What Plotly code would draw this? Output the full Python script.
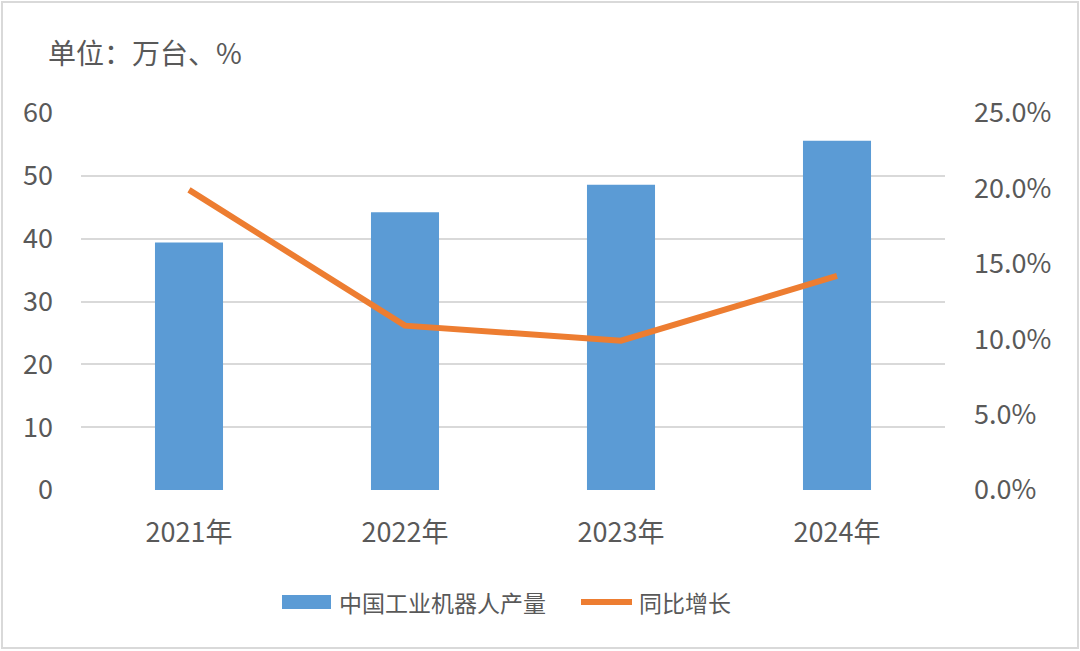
import plotly.graph_objects as go

categories = ["2021年", "2022年", "2023年", "2024年"]
production = [39.4, 44.2, 48.6, 55.6]          # 万台
growth = [0.199, 0.109, 0.099, 0.142]           # 同比增长

left_ticks = [0, 10, 20, 30, 40, 50, 60]
right_ticks = [0, 0.05, 0.10, 0.15, 0.20, 0.25]
right_tick_text = ["0.0%", "5.0%", "10.0%", "15.0%", "20.0%", "25.0%"]

W, H = 1080, 651
L, R, T, B = 81, 135, 113, 161
pw, ph = W - L - R, H - T - B

def px(x):
    return (x - L) / pw

def py(y):
    return (H - B - y) / ph

FONT = "Noto Sans CJK SC"
GREY = "#595959"
BLUE = "#5B9BD5"
ORANGE = "#ED7D31"

fig = go.Figure()
fig.add_trace(go.Bar(x=categories, y=production, name="中国工业机器人产量",
                     marker=dict(color=BLUE, line=dict(width=0)), width=0.315,
                     showlegend=False, yaxis="y"))
fig.add_trace(go.Scatter(x=categories, y=growth, name="同比增长", mode="lines",
                         line=dict(color=ORANGE, width=6), showlegend=False,
                         yaxis="y2"))

fig.update_layout(
    width=W, height=H,
    margin=dict(l=L, r=R, t=T, b=B),
    paper_bgcolor="white", plot_bgcolor="white",
    font=dict(family=FONT, color=GREY, size=27),
    xaxis=dict(showgrid=False, showline=False, zeroline=False, ticks="",
               tickfont=dict(size=27, color=GREY), ticklabelstandoff=24),
    yaxis=dict(range=[0, 60], tickvals=left_ticks, showgrid=True,
               gridcolor="#d9d9d9", gridwidth=1.5, zeroline=False, showline=False,
               tickfont=dict(size=27, color=GREY), ticklabelstandoff=27),
    yaxis2=dict(range=[0, 0.25], tickvals=right_ticks, ticktext=right_tick_text,
                overlaying="y", side="right", showgrid=False, zeroline=False,
                showline=False, tickfont=dict(size=27, color=GREY),
                ticklabelstandoff=28),
)

# unit label
fig.add_annotation(xref="paper", yref="paper", x=px(46), y=py(52),
                   xanchor="left", yanchor="middle", showarrow=False,
                   text="单位：万台、%", font=dict(size=28, color=GREY, family=FONT))

# custom legend
ly = 602
fig.add_shape(type="rect", xref="paper", yref="paper",
              x0=px(282), x1=px(331), y0=py(ly - 7), y1=py(ly + 7),
              fillcolor=BLUE, line=dict(width=0))
fig.add_annotation(xref="paper", yref="paper", x=px(337), y=py(ly),
                   xanchor="left", yanchor="middle", showarrow=False,
                   text="中国工业机器人产量", font=dict(size=23, color=GREY, family=FONT))
fig.add_shape(type="line", xref="paper", yref="paper",
              x0=px(581), x1=px(632), y0=py(ly), y1=py(ly),
              line=dict(color=ORANGE, width=6))
fig.add_annotation(xref="paper", yref="paper", x=px(637), y=py(ly),
                   xanchor="left", yanchor="middle", showarrow=False,
                   text="同比增长", font=dict(size=23, color=GREY, family=FONT))

# outer border
fig.add_shape(type="rect", xref="paper", yref="paper",
              x0=px(2), x1=px(1078), y0=py(2), y1=py(648),
              line=dict(color="#d9d9d9", width=2), fillcolor="rgba(0,0,0,0)")

fig.write_html("out.html")
